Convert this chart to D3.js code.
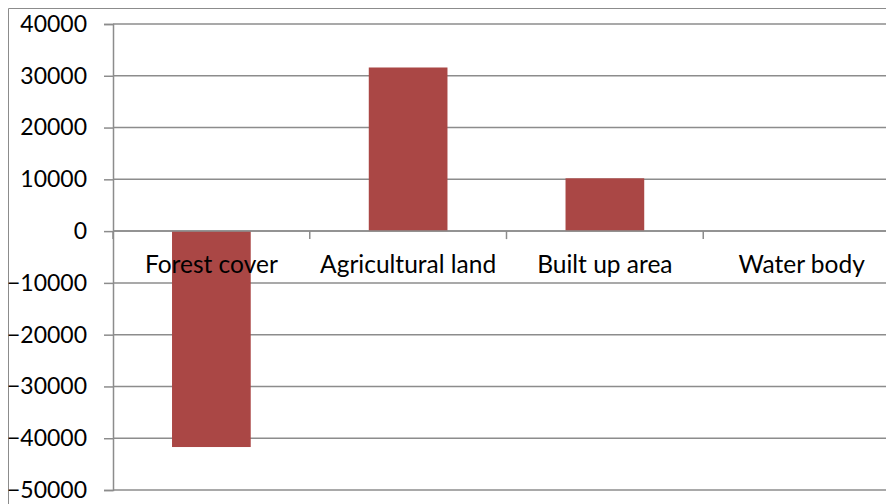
<!DOCTYPE html>
<html>
<head>
<meta charset="utf-8">
<script src="https://cdn.jsdelivr.net/npm/d3@7"></script>
<style>
  html, body { margin: 0; padding: 0; background: #fff; }
  svg { display: block; }
  text { font-family: Lato, "Open Sans", sans-serif; fill: #000; }
</style>
</head>
<body>
<svg id="chart" width="886" height="504"></svg>
<script>
// Net change per land-use class
const categories = ["Forest cover", "Agricultural land", "Built up area", "Water body"];
const values = [-41700, 31600, 10200, 0];
const yTicks = [-50000, -40000, -30000, -20000, -10000, 0, 10000, 20000, 30000, 40000];

const svg = d3.select("#chart");
const W = 886, H = 504;
const plot = { left: 113, right: 900, top: 24, bottom: 490 };

const x = d3.scaleBand()
  .domain(categories)
  .range([plot.left, plot.right])
  .paddingInner(0.6)
  .paddingOuter(0.3);

const y = d3.scaleLinear()
  .domain([-50000, 40000])
  .range([plot.bottom, plot.top]);

const gridColor = "#8c8c8c";

// outer frame (left and top edges)
svg.append("line").attr("x1", 8.5).attr("x2", 8.5).attr("y1", 8.5).attr("y2", H)
  .attr("stroke", gridColor).attr("stroke-width", 1);
svg.append("line").attr("x1", 8.5).attr("x2", W).attr("y1", 8.5).attr("y2", 8.5)
  .attr("stroke", gridColor).attr("stroke-width", 1);

// horizontal gridlines
svg.append("g")
  .selectAll("line")
  .data(yTicks)
  .join("line")
  .attr("x1", plot.left)
  .attr("x2", W)
  .attr("y1", d => y(d))
  .attr("y2", d => y(d))
  .attr("stroke", gridColor)
  .attr("stroke-width", 1.5);

// bars
svg.append("g")
  .selectAll("rect")
  .data(categories.map((c, i) => ({ c, v: values[i] })).filter(d => d.v !== 0))
  .join("rect")
  .attr("x", d => x(d.c))
  .attr("width", x.bandwidth())
  .attr("y", d => y(Math.max(0, d.v)))
  .attr("height", d => Math.abs(y(d.v) - y(0)))
  .attr("fill", "#aa4745");

// y axis
const yAxis = d3.axisLeft(y)
  .tickValues(yTicks)
  .tickFormat(d3.format("d"))
  .tickSize(9)
  .tickPadding(17);
const gy = svg.append("g")
  .attr("transform", `translate(${plot.left},0)`)
  .call(yAxis);
gy.select(".domain").attr("stroke", gridColor).attr("stroke-width", 1.5);
gy.selectAll(".tick line").attr("stroke", gridColor).attr("stroke-width", 1.5);
gy.selectAll(".tick text")
  .style("font-family", "Lato, 'Open Sans', sans-serif")
  .style("font-size", "23px")
  .attr("fill", "#000");

// x axis along zero line, category ticks at band boundaries
const zeroY = y(0);
svg.append("line")
  .attr("x1", plot.left).attr("x2", W)
  .attr("y1", zeroY).attr("y2", zeroY)
  .attr("stroke", gridColor).attr("stroke-width", 1.5);
const step = x.step();
const boundaries = d3.range(categories.length + 1).map(i => plot.left + i * step);
svg.append("g")
  .selectAll("line")
  .data(boundaries)
  .join("line")
  .attr("x1", d => d).attr("x2", d => d)
  .attr("y1", zeroY).attr("y2", zeroY + 8)
  .attr("stroke", gridColor).attr("stroke-width", 1.5);

svg.append("g")
  .selectAll("text")
  .data(categories)
  .join("text")
  .attr("x", d => x(d) + x.bandwidth() / 2)
  .attr("y", 273)
  .attr("text-anchor", "middle")
  .style("font-size", "24.5px")
  .text(d => d);
</script>
</body>
</html>
